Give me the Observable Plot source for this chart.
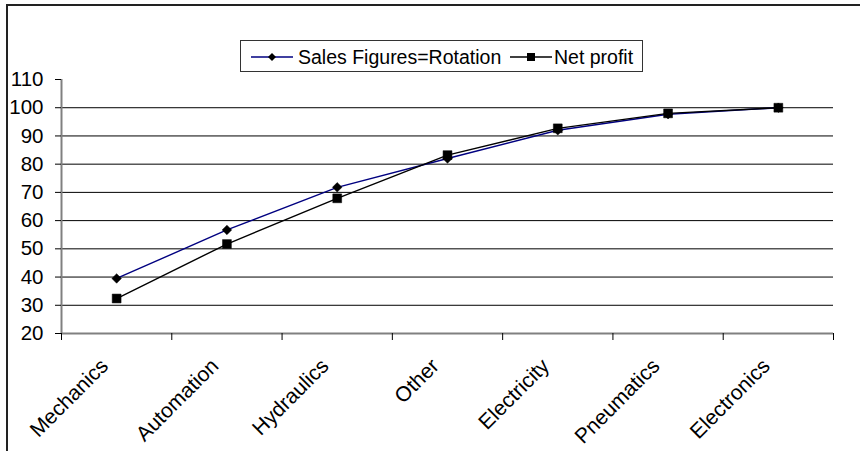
<!DOCTYPE html>
<html>
<head>
<meta charset="utf-8">
<script src="https://cdn.jsdelivr.net/npm/d3@7"></script>
<script src="https://cdn.jsdelivr.net/npm/@observablehq/plot@0.6"></script>
<style>
  html, body { margin: 0; padding: 0; background: #fff; overflow: hidden; }
  #wrap { position: relative; width: 860px; height: 451px; overflow: hidden; font-family: "Liberation Sans", Arial, sans-serif; }
  #frame { position: absolute; left: 6px; top: 4px; width: 900px; height: 500px; border-left: 2px solid #222; border-top: 2px solid #222; pointer-events: none; }
  #legend { position: absolute; left: 240px; top: 40px; width: 403px; height: 32px; border: 1px solid #333; background: #fff; box-sizing: border-box; }
  #legend .it { position: absolute; top: 0; height: 32px; }
  #legend .lab { position: absolute; top: 4px; font-size: 19.5px; color: #000; white-space: nowrap; line-height: 24px; }
  #chart { position: absolute; left: 0; top: 0; }
</style>
</head>
<body>
<div id="wrap">
  <div id="chart"></div>
  <div id="frame"></div>
  <div id="legend"></div>
</div>
<script>
const categories = ["Mechanics", "Automation", "Hydraulics", "Other", "Electricity", "Pneumatics", "Electronics"];
const salesFigures = [39.5, 56.7, 71.8, 82.0, 92.0, 97.7, 100];
const netProfit = [32.4, 51.7, 67.9, 83.2, 92.7, 98.0, 100];
const yTicks = [20, 30, 40, 50, 60, 70, 80, 90, 100, 110];
const gridValues = [30, 40, 50, 60, 70, 80, 90, 100];
const seriesNames = ["Sales Figures=Rotation", "Net profit"];
const seriesColors = ["#000080", "#000000"];

const salesData = categories.map((c, i) => ({cat: c, pos: i + 0.5, value: salesFigures[i]}));
const profitData = categories.map((c, i) => ({cat: c, pos: i + 0.5, value: netProfit[i]}));
const boundaries = d3.range(categories.length + 1);
const centers = categories.map((c, i) => i + 0.5);

const chart = Plot.plot({
  width: 860,
  height: 451,
  marginLeft: 61,
  marginRight: 27,
  marginTop: 79,
  marginBottom: 118,
  style: {fontFamily: "'Liberation Sans', Arial, sans-serif", background: "transparent", color: "#000"},
  x: {type: "linear", domain: [0, categories.length]},
  y: {domain: [20, 110]},
  marks: [
    Plot.ruleY(gridValues, {stroke: "#000", strokeWidth: 1}),
    Plot.ruleX([0], {y1: 20, y2: 110, stroke: "#808080", strokeWidth: 2}),
    Plot.ruleY([20], {stroke: "#808080", strokeWidth: 2}),
    Plot.axisY({ticks: yTicks, tickSize: 6, tickPadding: 12, fontSize: 20.5, label: null, stroke: "#000"}),
    Plot.axisX({ticks: boundaries, tickSize: 7, tickFormat: () => "", label: null}),
    Plot.axisX({ticks: centers, tickSize: 0, tickPadding: 29, dx: -12, tickRotate: -45, fontSize: 21, label: null,
      tickFormat: d => categories[Math.floor(d)]}),
    Plot.line(salesData, {x: "pos", y: "value", stroke: seriesColors[0], strokeWidth: 1.4}),
    Plot.line(profitData, {x: "pos", y: "value", stroke: seriesColors[1], strokeWidth: 1.4}),
    Plot.dot(salesData, {x: "pos", y: "value", symbol: d3.symbolDiamond2, r: 4.3, fill: "#000", stroke: "#000", strokeWidth: 0.5}),
    Plot.dot(profitData, {x: "pos", y: "value", symbol: "square", r: 5.0, fill: "#000", stroke: "#000", strokeWidth: 0.5})
  ]
});
document.getElementById("chart").appendChild(chart);

// legend
const legend = document.getElementById("legend");
function swatch(left, color, shape) {
  const ns = "http://www.w3.org/2000/svg";
  const svg = document.createElementNS(ns, "svg");
  svg.setAttribute("width", 44); svg.setAttribute("height", 32);
  svg.setAttribute("class", "it");
  svg.style.left = left + "px";
  const line = document.createElementNS(ns, "line");
  line.setAttribute("x1", 1); line.setAttribute("x2", 43);
  line.setAttribute("y1", 16); line.setAttribute("y2", 16);
  line.setAttribute("stroke", color); line.setAttribute("stroke-width", 1.6);
  svg.appendChild(line);
  const p = document.createElementNS(ns, "path");
  if (shape === "diamond") p.setAttribute("d", "M22,12L26,16L22,20L18,16Z");
  else p.setAttribute("d", "M18,12H26V20H18Z");
  p.setAttribute("fill", "#000");
  svg.appendChild(p);
  legend.appendChild(svg);
}
function label(left, text) {
  const d = document.createElement("div");
  d.className = "lab"; d.style.left = left + "px"; d.textContent = text;
  legend.appendChild(d);
}
swatch(9, seriesColors[0], "diamond");
label(57, seriesNames[0]);
swatch(268, seriesColors[1], "square");
label(313, seriesNames[1]);
</script>
</body>
</html>
